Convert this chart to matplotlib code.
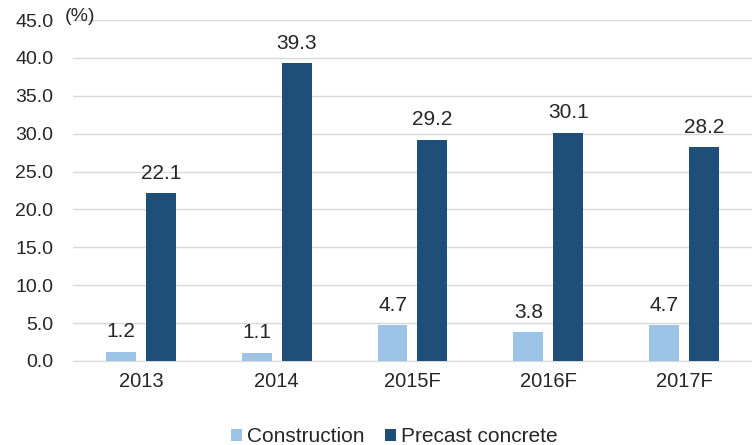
import numpy as np
import matplotlib.pyplot as plt

plt.rcParams['font.family'] = ['Liberation Sans', 'DejaVu Sans']

years = ['2013', '2014', '2015F', '2016F', '2017F']
construction = [1.2, 1.1, 4.7, 3.8, 4.7]
precast = [22.1, 39.3, 29.2, 30.1, 28.2]

light = '#9DC3E6'
dark = '#1F4E79'

fig = plt.figure(figsize=(7.52, 4.45), dpi=100)
ax = fig.add_axes([0.097, 0.189, 0.903, 0.766])

x = np.arange(len(years))
w = 0.22
off = 0.147
b1 = ax.bar(x - off, construction, w, color=light, label='Construction', zorder=3)
b2 = ax.bar(x + off, precast, w, color=dark, label='Precast concrete', zorder=3)

for bars, vals in ((b1, construction), (b2, precast)):
    for b, v in zip(bars, vals):
        ax.text(b.get_x() + b.get_width() / 2, v + 1.4, '%.1f' % v,
                ha='center', va='bottom', fontsize=15, color='#262626')

ax.set_xlim(-0.5, len(years) - 0.5)
ax.set_ylim(0, 45)
ax.set_yticks(np.arange(0, 46, 5))
ax.set_yticklabels(['%.1f' % t for t in np.arange(0, 46, 5)])
ax.set_xticks(x)
ax.set_xticklabels(years)
ax.tick_params(axis='both', length=0, labelsize=14.5, colors='#262626')
ax.tick_params(axis='y', labelsize=14, pad=14)
ax.tick_params(axis='x', pad=8)

ax.grid(axis='y', color='#D9D9D9', linewidth=1, zorder=0)
for s in ('top', 'right', 'left'):
    ax.spines[s].set_visible(False)
ax.spines['bottom'].set_color('#D9D9D9')

ax.text(-0.45, 45.4, '(%)', ha='center', va='center', fontsize=14, color='#262626')

fig.legend(loc='lower center', bbox_to_anchor=(0.524, -0.045), ncol=2, frameon=False,
           fontsize=15, handlelength=0.55, handleheight=0.55, handletextpad=0.2,
           columnspacing=1.0, labelcolor='#262626')

fig.savefig('out.png', dpi=100)
